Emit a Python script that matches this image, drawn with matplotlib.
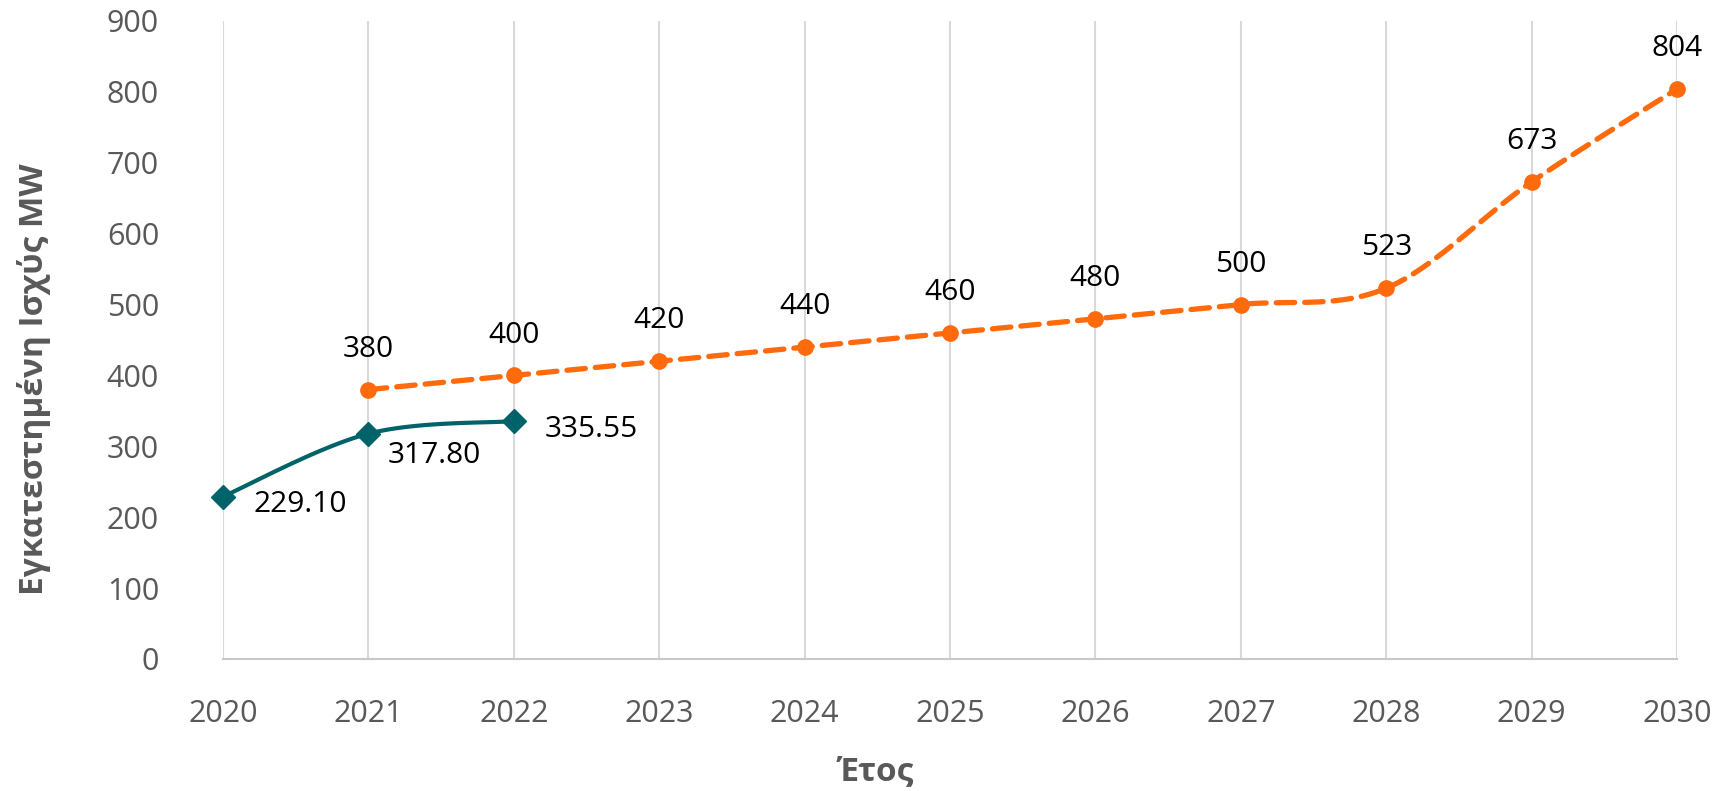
import matplotlib
matplotlib.use("Agg")
import matplotlib.pyplot as plt
import numpy as np

plt.rcParams['font.family'] = ['Open Sans', 'DejaVu Sans']

years = [2020, 2021, 2022, 2023, 2024, 2025, 2026, 2027, 2028, 2029, 2030]
actual_years = [2020, 2021, 2022]
actual_vals = [229.10, 317.80, 335.55]
target_years = [2021, 2022, 2023, 2024, 2025, 2026, 2027, 2028, 2029, 2030]
target_vals = [380, 400, 420, 440, 460, 480, 500, 523, 673, 804]

ORANGE = '#FF6A0D'
TEAL = '#00636A'
GRAY = '#595959'


def smooth(x, y, n=40):
    # excel-like bezier smoothing through the points
    x = np.asarray(x, float)
    y = np.asarray(y, float)
    p = np.column_stack([x, y])
    pts = []
    for i in range(len(p) - 1):
        p0 = p[i - 1] if i > 0 else p[i]
        p3 = p[i + 2] if i + 2 < len(p) else p[i + 1]
        c1 = p[i] + (p[i + 1] - p0) / 6
        c2 = p[i + 1] - (p3 - p[i]) / 6
        t = np.linspace(0, 1, n)[:, None]
        seg = ((1 - t) ** 3 * p[i] + 3 * (1 - t) ** 2 * t * c1
               + 3 * (1 - t) * t ** 2 * c2 + t ** 3 * p[i + 1])
        pts.append(seg if i == 0 else seg[1:])
    pts = np.vstack(pts)
    return pts[:, 0], pts[:, 1]


fig = plt.figure(figsize=(17.27, 7.91), dpi=100)
ax = fig.add_axes([0.1291, 0.1669, 0.842, 0.8066])

# target line (dashed)
sx, sy = smooth(target_years, target_vals)
ax.plot(sx, sy, color=ORANGE, lw=3.8, dashes=(3.5, 1.9), dash_capstyle='round', zorder=3, clip_on=False)
ax.plot(target_years, target_vals, 'o', color=ORANGE, ms=11, zorder=4, clip_on=False)

# actual line
sx, sy = smooth(actual_years, actual_vals)
ax.plot(sx, sy, color=TEAL, lw=3.0, zorder=3, clip_on=False)
ax.plot(actual_years, actual_vals, 'D', color=TEAL, ms=12.5, zorder=4, clip_on=False)

for x, v in zip(target_years, target_vals):
    ax.annotate(f'{v}', (x, v), xytext=(0, 29), textcoords='offset points',
                ha='center', va='center', fontsize=21.5, color='black')

act_off = [(22, -6), (14, -16), (22, -6)]
for (x, v), (dx, dy) in zip(zip(actual_years, actual_vals), act_off):
    ax.annotate(f'{v:.2f}', (x, v), xytext=(dx, dy), textcoords='offset points',
                ha='left', va='center', fontsize=21.5, color='black')

ax.set_xlim(2020, 2030)
ax.set_ylim(0, 900)
ax.set_xticks(years)
ax.set_yticks(range(0, 901, 100))
ax.grid(axis='x', color='#D9D9D9', lw=1.5, zorder=0)
ax.set_axisbelow(True)
for s in ['top', 'right', 'left']:
    ax.spines[s].set_visible(False)
ax.spines['bottom'].set_color('#C8C8C8')
ax.spines['bottom'].set_linewidth(1.5)
ax.tick_params(axis='both', length=0, labelsize=22, labelcolor=GRAY)
ax.tick_params(axis='x', pad=29)
ax.tick_params(axis='y', pad=46)

ax.set_xlabel('Έτος', fontsize=24, fontweight='bold', color=GRAY)
ax.set_ylabel('Εγκατεστημένη Ισχύς MW', fontsize=24, fontweight='bold', color=GRAY)
ax.xaxis.set_label_coords(0.449, -0.15)
ax.yaxis.set_label_coords(-0.118, 0.438)

fig.savefig('out.png', dpi=100)
